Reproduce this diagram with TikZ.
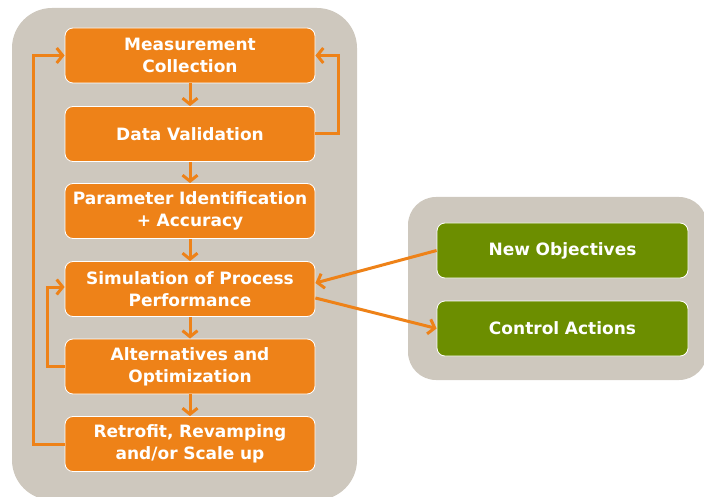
\documentclass[tikz,border=0pt]{standalone}
\usepackage{fontspec}
\setsansfont{DejaVu Sans}
\usetikzlibrary{arrows.meta}
\definecolor{panelgray}{RGB}{206,200,190}
\definecolor{boxorange}{RGB}{238,130,24}
\definecolor{boxgreen}{RGB}{108,142,0}

\begin{document}
\begin{tikzpicture}[x=1pt,y=-1pt,
    stepbox/.style={draw=white, line width=0.8pt, fill=boxorange, rounded corners=8pt,
        minimum width=250pt, minimum height=55pt, text width=246pt, align=center,
        inner sep=0pt, text=white, font=\sffamily\bfseries\fontsize{17}{22}\selectfont},
    actbox/.style={stepbox, fill=boxgreen, minimum width=251pt},
    flow/.style={draw=boxorange, line width=3pt, -{Straight Barb[length=6pt,width=15pt]}}]
    \useasboundingbox (0,0) rectangle (704,497);
    % background panels
    \fill[panelgray, rounded corners=40pt] (12,8) rectangle (357,500);
    \fill[panelgray, rounded corners=28pt] (408,197) rectangle (707,380);

    % process steps
    \node[stepbox] (meas)  at (190,55.5) {Measurement\\Collection};
    \node[stepbox] (valid) at (190,134)  {Data Validation};
    \node[stepbox] (param) at (190,211)  {Parameter Identification\\+ Accuracy};
    \node[stepbox] (sim)   at (190,289)  {Simulation of Process\\Performance};
    \node[stepbox] (alt)   at (190,366.5) {Alternatives and\\Optimization};
    \node[stepbox] (retro) at (190,444)  {Retrofit, Revamping\\and/or Scale up};

    % outcomes
    \node[actbox] (newobj) at (562.5,250.5) {New Objectives};
    \node[actbox] (ctrl)   at (562.5,328.5) {Control Actions};

    % main flow
    \draw[flow] (meas)  -- (valid);
    \draw[flow] (valid) -- (param);
    \draw[flow] (param) -- (sim);
    \draw[flow] (sim)   -- (alt);
    \draw[flow] (alt)   -- (retro);

    % feedback loops
    \draw[flow] (valid.east) -- ++(23,0) |- (meas.east);
    \draw[flow] (retro.west) -- ++(-31,0) |- (meas.west);
    \draw[flow] (alt.west) -- ++(-17,0) |- ([yshift=2pt]sim.west);

    % links to the outcomes
    \draw[flow] (newobj.west) -- ([yshift=6pt]sim.east);
    \draw[flow] ([yshift=-9pt]sim.east) -- (ctrl.west);
\end{tikzpicture}
\end{document}
